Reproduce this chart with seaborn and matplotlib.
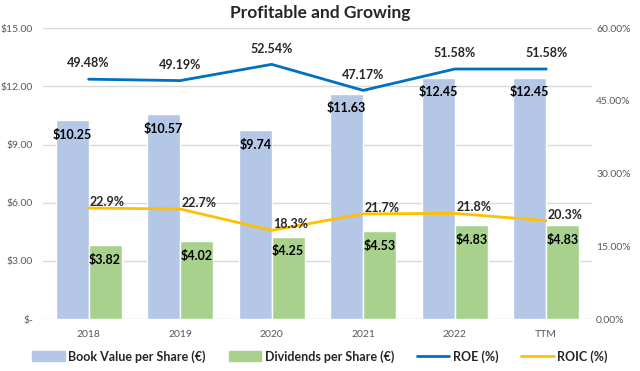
import numpy as np
import pandas as pd
import seaborn as sns
import matplotlib.pyplot as plt
from matplotlib.patches import Patch
from matplotlib.lines import Line2D
from matplotlib.ticker import FuncFormatter

years = ['2018', '2019', '2020', '2021', '2022', 'TTM']
book_value = [10.25, 10.57, 9.74, 11.63, 12.45, 12.45]
dividends = [3.82, 4.02, 4.25, 4.53, 4.83, 4.83]
roe = [49.48, 49.19, 52.54, 47.17, 51.58, 51.58]
roic = [22.9, 22.7, 18.3, 21.7, 21.8, 20.3]

bar_names = ['Book Value per Share (€)', 'Dividends per Share (€)']
blue_bar = '#B4C7E7'
green_bar = '#A9D18E'
roe_col = '#0070C0'
roic_col = '#FFC000'
grey = '#595959'

sns.set_style('white')
plt.rcParams['font.family'] = ['Lato', 'DejaVu Sans']

df = pd.DataFrame({
    'year': years * 2,
    'value': book_value + dividends,
    'series': [bar_names[0]] * len(years) + [bar_names[1]] * len(years),
})

fig = plt.figure(figsize=(6.4, 3.71), dpi=100)
ax = fig.add_axes([0.067, 0.140, 0.858, 0.784])

sns.barplot(data=df, x='year', y='value', hue='series', order=years,
            palette=[blue_bar, green_bar], width=0.72, saturation=1,
            legend=False, ax=ax)
ax.set_ylim(0, 15)
ax.set_yticks(np.arange(0, 15.1, 3))
ax.yaxis.set_major_formatter(FuncFormatter(lambda v, p: '$-' if v == 0 else f'${v:.2f}'))
ax.set_xlim(-0.5, len(years) - 0.5)
ax.grid(axis='y', color='#D9D9D9', linewidth=1)
ax.set_axisbelow(True)
ax.set(xlabel=None, ylabel=None)
for s in ax.spines.values():
    s.set_visible(False)
ax.tick_params(axis='x', length=0, labelsize=7.5, colors=grey, pad=8)
ax.tick_params(axis='y', length=0, labelsize=7.5, colors=grey, pad=7)

for cont, vals in zip(ax.containers, [book_value, dividends]):
    ax.bar_label(cont, labels=[f'${v:.2f}' for v in vals], padding=-15,
                 fontsize=9, fontweight='bold', color='black')

ax2 = ax.twinx()
sns.lineplot(x=years, y=roe, color=roe_col, linewidth=2, sort=False, ax=ax2)
sns.lineplot(x=years, y=roic, color=roic_col, linewidth=2, sort=False, ax=ax2)
ax2.set_ylim(0, 60)
ax2.set_yticks(np.arange(0, 60.1, 15))
ax2.yaxis.set_major_formatter(FuncFormatter(lambda v, p: f'{v:.2f}%'))
for s in ax2.spines.values():
    s.set_visible(False)
ax2.tick_params(axis='y', length=0, labelsize=7.5, colors=grey, pad=3)

for i, v in enumerate(roe):
    ax2.annotate(f'{v:.2f}%', (i, v), xytext=(0, 7), textcoords='offset points',
                 ha='center', va='bottom', fontsize=9, fontweight='bold')
for i, v in enumerate(roic):
    ax2.annotate(f'{v:.1f}%', (i, v), xytext=(1, 0), textcoords='offset points',
                 ha='left', va='bottom', fontsize=9, fontweight='bold')

fig.text(0.5, 0.965, 'Profitable and Growing', ha='center', va='center',
         fontsize=12.5, fontweight='bold')

handles = [Patch(color=blue_bar, label=bar_names[0]),
           Patch(color=green_bar, label=bar_names[1]),
           Line2D([], [], color=roe_col, lw=2, label='ROE (%)'),
           Line2D([], [], color=roic_col, lw=2, label='ROIC (%)')]
leg = fig.legend(handles=handles, loc='center', bbox_to_anchor=(0.5, 0.04), ncol=4,
                 frameon=False, prop={'weight': 'bold', 'size': 9},
                 handlelength=2.6, handleheight=0.8, columnspacing=1.8, handletextpad=0.3)

fig.savefig('out.png', dpi=100)
